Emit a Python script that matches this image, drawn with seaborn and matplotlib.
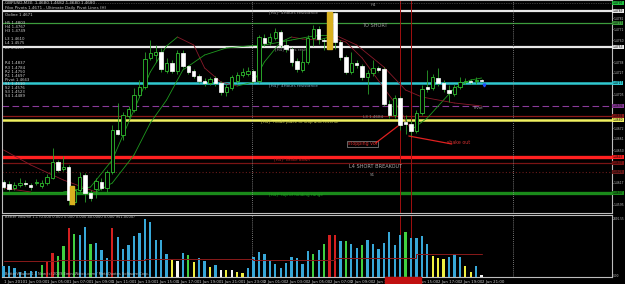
import matplotlib
matplotlib.use("Agg")
import matplotlib.pyplot as plt
import matplotlib.transforms as mtransforms
from matplotlib.patches import Rectangle
import numpy as np
import pandas as pd
import seaborn as sns

# ---------------- data (GBPUSD M30) ----------------
opens = [1.4618, 1.4616, 1.4612, 1.4615, 1.4617, 1.4615, 1.4617, 1.4614, 1.4617, 1.4622,
         1.4638, 1.4631, 1.4633, 1.4598, 1.4610, 1.4625, 1.4607, 1.4611, 1.4618, 1.4612,
         1.4628, 1.4670, 1.4665, 1.4684, 1.4690, 1.4705, 1.4713, 1.4742, 1.4745, 1.4748,
         1.4729, 1.4737, 1.4729, 1.4747, 1.4734, 1.4729, 1.4724, 1.4719, 1.4717, 1.4722,
         1.4717, 1.4708, 1.4712, 1.4719, 1.4725, 1.4726, 1.4729, 1.4719, 1.4762, 1.4758,
         1.4762, 1.4768, 1.4755, 1.4751, 1.4739, 1.4730, 1.4738, 1.4762, 1.4771, 1.4760,
         1.4759, 1.4787, 1.4758, 1.4743, 1.4728, 1.4737, 1.4734, 1.4723, 1.4727, 1.4732,
         1.4731, 1.4696, 1.4685, 1.4702, 1.4678, 1.4676, 1.4669, 1.4687, 1.4713, 1.4712,
         1.4722, 1.4717, 1.4710, 1.4706, 1.4713, 1.4718, 1.4719, 1.4719, 1.4720]
closes = [1.4613, 1.4611, 1.4615, 1.4617, 1.4616, 1.4613, 1.4618, 1.4617, 1.4623, 1.4638,
          1.4630, 1.4633, 1.4600, 1.4610, 1.4623, 1.4607, 1.4602, 1.4619, 1.4612, 1.4628,
          1.4670, 1.4666, 1.4685, 1.4691, 1.4705, 1.4713, 1.4741, 1.4747, 1.4748, 1.4731,
          1.4737, 1.4729, 1.4747, 1.4734, 1.4728, 1.4724, 1.4719, 1.4717, 1.4721, 1.4717,
          1.4708, 1.4713, 1.4723, 1.4725, 1.4728, 1.4729, 1.4719, 1.4763, 1.4757, 1.4763,
          1.4768, 1.4755, 1.4751, 1.4738, 1.4731, 1.4738, 1.4762, 1.4771, 1.4761, 1.4759,
          1.4787, 1.4758, 1.4743, 1.4728, 1.4737, 1.4735, 1.4723, 1.4727, 1.4732, 1.4730,
          1.4696, 1.4685, 1.4702, 1.4675, 1.4676, 1.4669, 1.4687, 1.4711, 1.4711, 1.4723,
          1.4717, 1.4711, 1.4707, 1.4713, 1.4718, 1.4719, 1.4718, 1.4720, 1.4719]
highs = [1.4620, 1.4619, 1.4618, 1.4622, 1.4620, 1.4617, 1.4621, 1.4620, 1.4626, 1.4652,
         1.4640, 1.4644, 1.4635, 1.4614, 1.4628, 1.4627, 1.4610, 1.4622, 1.4622, 1.4630,
         1.4675, 1.4697, 1.4688, 1.4694, 1.4712, 1.4720, 1.4748, 1.4760, 1.4755, 1.4752,
         1.4742, 1.4740, 1.4750, 1.4750, 1.4735, 1.4731, 1.4726, 1.4722, 1.4723, 1.4724,
         1.4719, 1.4716, 1.4725, 1.4728, 1.4732, 1.4733, 1.4731, 1.4765, 1.4766, 1.4767,
         1.4772, 1.4770, 1.4760, 1.4753, 1.4742, 1.4750, 1.4765, 1.4775, 1.4774, 1.4762,
         1.4788, 1.4788, 1.4760, 1.4745, 1.4748, 1.4740, 1.4736, 1.4730, 1.4740, 1.4734,
         1.4733, 1.4700, 1.4705, 1.4704, 1.4685, 1.4680, 1.4690, 1.4715, 1.4730, 1.4726,
         1.4732, 1.4720, 1.4715, 1.4716, 1.4723, 1.4722, 1.4721, 1.4723, 1.4721]
lows = [1.4611, 1.4609, 1.4610, 1.4613, 1.4614, 1.4610, 1.4615, 1.4612, 1.4615, 1.4621,
        1.4628, 1.4629, 1.4595, 1.4595, 1.4608, 1.4598, 1.4599, 1.4602, 1.4610, 1.4608,
        1.4626, 1.4665, 1.4660, 1.4682, 1.4688, 1.4703, 1.4711, 1.4740, 1.4738, 1.4728,
        1.4727, 1.4727, 1.4726, 1.4732, 1.4726, 1.4722, 1.4717, 1.4714, 1.4715, 1.4714,
        1.4705, 1.4704, 1.4710, 1.4717, 1.4723, 1.4724, 1.4717, 1.4717, 1.4754, 1.4755,
        1.4760, 1.4753, 1.4748, 1.4734, 1.4728, 1.4728, 1.4736, 1.4754, 1.4756, 1.4750,
        1.4752, 1.4751, 1.4740, 1.4726, 1.4726, 1.4732, 1.4720, 1.4706, 1.4724, 1.4728,
        1.4694, 1.4682, 1.4682, 1.4670, 1.4666, 1.4663, 1.4667, 1.4685, 1.4708, 1.4710,
        1.4714, 1.4708, 1.4698, 1.4704, 1.4711, 1.4716, 1.4716, 1.4716, 1.4718]

volumes = [495, 465, 390, 225, 270, 270, 270, 540, 720, 1050,
           945, 1350, 2145, 1890, 1845, 2190, 1440, 1500, 1200, 840,
           2145, 1740, 1245, 1395, 1800, 1920, 2550, 2400, 1620, 1620,
           990, 750, 720, 1065, 975, 675, 840, 690, 420, 540,
           315, 300, 300, 240, 195, 375, 900, 1095, 1020, 690,
           570, 375, 600, 900, 840, 570, 1140, 1020, 1200, 1470,
           1845, 1845, 1575, 1575, 1470, 1275, 1395, 1620, 1440, 1215,
           1500, 1965, 1425, 1845, 1965, 1695, 1695, 1800, 1470, 945,
           840, 795, 900, 990, 870, 495, 240, 495, 90]
vol_codes = ("BBBBBBBGRRGGRGBBGBBBR" "BBBBBBBBBB" "YWBGYBBYBWYWYYB" "BBBBBBBBBBB"
             "GBGRRBGBBG" "BBBBBBB" "G" "BBBB" "YYY" "BBB" "YYBW")
vol_avg_idx = [0, 10, 26, 46, 61, 76, 88]
vol_avg_val = [690, 760, 800, 760, 850, 1000, 1000]

fast_idx = [0, 5, 11, 16, 20, 24, 27, 30, 32, 35, 37, 40, 43, 46, 48, 51, 53, 55, 58, 60,
            63, 66, 70, 73, 75, 78, 81, 83, 86, 88]
fast_val = [1.4612, 1.4608, 1.4608, 1.4613, 1.4640, 1.4690, 1.4728, 1.4754, 1.4763, 1.4755,
            1.4732, 1.4718, 1.4714, 1.4718, 1.4738, 1.4758, 1.4763, 1.4761, 1.4760, 1.4763,
            1.4758, 1.4742, 1.4712, 1.4690, 1.4670, 1.4682, 1.4700, 1.4712, 1.4720, 1.4722]
slow_idx = [0, 5, 11, 17, 20, 24, 27, 30, 33, 37, 41, 45, 48, 53, 57, 61, 65, 70, 74, 77, 83, 88]
slow_val = [1.4650, 1.4635, 1.4620, 1.4608, 1.4617, 1.4645, 1.4677, 1.4700, 1.4730, 1.4745,
            1.4752, 1.4754, 1.4755, 1.4760, 1.4764, 1.4765, 1.4755, 1.4733, 1.4710, 1.4703,
            1.4697, 1.4694]

levels = [1.4789, 1.4777, 1.4753, 1.4717, 1.4694, 1.4684, 1.4680, 1.4643, 1.4637, 1.4628, 1.4607]
level_colors = ["#e8e8e8", "#3c9c3c", "#e8e8e8", "#30c8d0", "#8a3a9a", "#8a1a1a", "#f0f060",
                "#ff2020", "#7a1414", "#6a1a1a", "#1a8a1a"]
level_widths = [1.6, 0.9, 1.6, 1.8, 0.8, 0.9, 1.8, 2.4, 0.9, 0.8, 2.4]
level_styles = ["-", "-", "-", "-", (0, (6, 3)), "-", "-", "-", "-", (0, (1, 2)), "-"]

time_labels = ["1 Jun 2010", "1 Jun 03:00", "1 Jun 05:00", "1 Jun 07:00", "1 Jun 09:00",
               "1 Jun 11:00", "1 Jun 13:00", "1 Jun 15:00", "1 Jun 17:00", "1 Jun 19:00",
               "1 Jun 21:00", "1 Jun 23:00", "2 Jun 01:00", "2 Jun 03:00", "2 Jun 05:00",
               "2 Jun 07:00", "2 Jun 09:00", "2 Jun 11:00", "2 Jun 13:00", "2 Jun 15:00",
               "2 Jun 17:00", "2 Jun 19:00", "2 Jun 21:00"]

# ---------------- style ----------------
sns.set_theme(style="dark", rc={"axes.facecolor": "black", "figure.facecolor": "black",
                                "axes.grid": False})
plt.rcParams["font.family"] = ["DejaVu Sans"]

W, H = 625, 284
fig = plt.figure(figsize=(W / 100, H / 100), dpi=100)
fig.patch.set_facecolor("black")
ax = fig.add_axes([2 / W, 1 - 213 / H, 610 / W, 213 / H])
axv = fig.add_axes([2 / W, 7 / H, 610 / W, 62 / H])

n = len(opens)
idx = np.arange(n)
xlim = (-0.3, 112.0)
for a in (ax, axv):
    a.set_facecolor("black")
    a.set_xlim(*xlim)
    for s in a.spines.values():
        s.set_color("#bdbdbd")
        s.set_linewidth(0.8)
ax.set_ylim(1.4587, 1.4800)
axv.set_ylim(0, 2726)

# horizontal levels
for lv, c, lw, ls in zip(levels, level_colors, level_widths, level_styles):
    ax.axhline(lv, color=c, lw=lw, ls=ls, zorder=1)

# vertical markers
for a in (ax, axv):
    for xv in (45.7, 93.7):
        a.axvline(xv, color="#9a9a9a", lw=0.6, ls=(0, (1, 1.5)), zorder=1)
    for xv in (73, 75):
        a.axvline(xv, color="#a01010", lw=0.7, zorder=1)
ax.axhline(1.4797, color="#707070", lw=0.5, ls=(0, (1, 1.5)), zorder=1)

# direction-coloured smoothing curves
def draw_curve(xs, ys):
    for i in range(len(xs) - 1):
        col = "#1f9a1f" if ys[i + 1] >= ys[i] else "#8a1a2a"
        ax.plot(xs[i:i + 2], ys[i:i + 2], color=col, lw=0.6, zorder=2)
draw_curve(fast_idx, fast_val)
draw_curve(slow_idx, slow_val)

# candles
df = pd.DataFrame({"i": idx, "o": opens, "c": closes, "h": highs, "l": lows})
bull = df["c"] >= df["o"]
ax.vlines(df["i"], df["l"], df["h"], colors="#2aa02a", lw=0.6, zorder=3)
body_lo = np.minimum(df["o"], df["c"])
body_h = np.maximum(np.abs(df["c"] - df["o"]), 0.00008)
ax.bar(df["i"][bull], body_h[bull], bottom=body_lo[bull], width=0.62,
       color="black", edgecolor="#2fbf2f", linewidth=0.6, zorder=4)
ax.bar(df["i"][~bull], body_h[~bull], bottom=body_lo[~bull], width=0.62,
       color="white", edgecolor="white", linewidth=0.5, zorder=4)
# highlighted candles
ax.add_patch(Rectangle((12.2, 1.4596), 0.8, 0.0018, color="#d8b020", zorder=5))
ax.add_patch(Rectangle((59.6, 1.4751), 0.8, 0.0037, color="#d8b020", zorder=5))
ax.plot([88.4], [1.4715], marker="v", ms=2, color="#2050ff", zorder=5)

# annotations
tfs = 3.0
ax.text(48.8, 1.4788, "[H4]* 4Hours resistance", color="#909090", fontsize=tfs, va="center")
ax.text(66.0, 1.4774, "TO SHORT", color="#9a9a9a", fontsize=3.6, va="center")
ax.text(67.6, 1.4795, "H4", color="#9a9a9a", fontsize=tfs, va="center")
ax.text(50.0, 1.4751, "[H4]* 4Hrs resist", color="#909090", fontsize=tfs, va="center")
ax.text(48.8, 1.4715, "[H4]* 4Hours resistance", color="#80a8c0", fontsize=tfs, va="center")
ax.text(47.3, 1.4678, "[H4]* made place to stop and reverse", color="#c8c850", fontsize=tfs, va="center")
ax.text(66.1, 1.4683, "L3 1.4684", color="#8a8a8a", fontsize=tfs, va="center")
ax.text(49.7, 1.4641, "[H4]* broke down", color="#c02020", fontsize=tfs, va="center")
ax.text(63.5, 1.4634, "L4 SHORT BREAKOUT", color="#a8a8a8", fontsize=3.6, va="center")
ax.text(67.4, 1.4625, "S1", color="#9a9a9a", fontsize=tfs, va="center")
ax.text(48.8, 1.4605, "[H4]* top of holding range", color="#20a020", fontsize=tfs, va="center")
ax.text(63.4, 1.4656, "stopping vol", color="#d03030", fontsize=3.4, va="center",
        bbox=dict(facecolor="black", edgecolor="#909090", linewidth=0.5, pad=0.6))
ax.plot([68.5, 72.6], [1.4657, 1.4674], color="#e02020", lw=0.9, zorder=6)
ax.text(81.6, 1.4658, "shake out", color="#d03030", fontsize=3.4, va="center")
ax.plot([74.6, 82.5], [1.4664, 1.4656], color="#e02020", lw=0.9, zorder=6)
ax.text(86.6, 1.4692, "Pivot", color="#9a9a9a", fontsize=2.8, va="center")

ax.text(0.3, 1.4797, "GBPUSD,M30  1.4680 1.4682 1.4680 1.4680", color="#c8c8c8",
        fontsize=tfs, va="center")
ax.text(0.3, 1.4792, "Fibo Pivots 1.4671 - Ultimate Daily Pivot Lines (H)", color="#c8c8c8",
        fontsize=tfs, va="center")
left_labels = [(1.4785, "Ooline 1.4671"), (1.4777, "H5 1.4803"), (1.4773, "H4 1.4767"),
               (1.4769, "H3 1.4749"), (1.4761, "L3 1.4610"), (1.4757, "L4 1.4575"),
               (1.4752, "L5 1.4539"), (1.4737, "R4 1.4837"), (1.4732, "R3 1.4784"),
               (1.4728, "R2 1.4750"), (1.4724, "R1 1.4697"), (1.4720, "Pivot 1.4663"),
               (1.4716, "S1 1.4610"), (1.4712, "S2 1.4576"), (1.4708, "S3 1.4523"),
               (1.4704, "S4 1.4489")]
for yv, t in left_labels:
    ax.text(0.3, yv, t, color="#d0d0d0", fontsize=2.8, va="center", zorder=7)

# right price scale
ax.yaxis.tick_right()
all_ticks = [1.4782 - 0.0011 * k for k in range(18)]
ticks = [t for t in all_ticks if min(abs(t - lv) for lv in levels + [1.4797]) > 0.00045]
ax.set_yticks(ticks)
ax.set_yticklabels([f"{t:.4f}" for t in ticks])
ax.tick_params(axis="y", colors="#bdbdbd", labelsize=2.2, length=1.0, width=0.5, pad=0.3)
ax.set_xticks([])
trans = mtransforms.blended_transform_factory(ax.transAxes, ax.transData)
for lv, c in zip(levels + [1.4797], level_colors + ["#20c040"]):
    ax.text(1.0012, lv, f"{lv:.4f}", transform=trans, fontsize=2.2, color="black",
            va="center", ha="left", clip_on=False, zorder=8,
            bbox=dict(facecolor=c, edgecolor="none", pad=0.2))

# volume panel
cmap = {"B": "#38a8d8", "R": "#d42020", "G": "#40d040", "Y": "#f0f040", "W": "#f4f4f4"}
vol_df = pd.DataFrame({"i": idx, "v": volumes, "col": [cmap[k] for k in vol_codes]})
axv.bar(vol_df["i"], vol_df["v"], width=0.42, color=vol_df["col"], linewidth=0, zorder=3)
sns.lineplot(x=vol_avg_idx, y=vol_avg_val, ax=axv, color="#8a1a1a", lw=0.7,
             drawstyle="steps-post", zorder=4)
axv.text(0.3, 2620, "Better Volume 1.1 (0.000 0.000 0.000 0.000 40.0000 0.000 951.0000)",
         color="#c0c0c0", fontsize=2.6, va="center")
axv.text(0.3, 120, "BetterVolume 1.1 New (c) 2009 Emini-Watch.com / MetaQuotes Software Corp.",
         color="#c0c0c0", fontsize=2.6, va="center")
axv.set_yticks([])
axv.set_ylabel("")
axv.set_xlabel("")
transv = mtransforms.blended_transform_factory(axv.transAxes, axv.transData)
axv.text(1.002, 2560, "2491.55", transform=transv, fontsize=2.1, color="#bdbdbd",
         va="center", clip_on=False)
axv.text(1.002, 60, "0.00", transform=transv, fontsize=2.1, color="#bdbdbd",
         va="center", clip_on=False)
axv.set_xticks(np.arange(0, 4 * len(time_labels), 4))
axv.set_xticklabels(time_labels, ha="left")
axv.tick_params(axis="x", colors="#c8c8c8", labelsize=2.8, length=1.5, width=0.5, pad=0.5)
fig.patches.append(Rectangle((385 / W, 0), 36 / W, 7 / H, transform=fig.transFigure,
                             color="#c01010", zorder=0))

fig.savefig("out.png", dpi=100, facecolor="black")
